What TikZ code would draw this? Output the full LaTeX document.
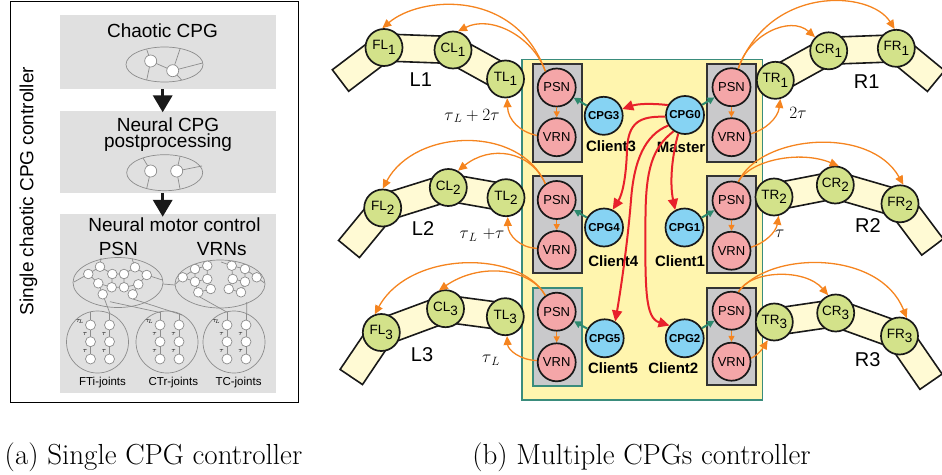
\documentclass[tikz,border=0pt]{standalone}
\usepackage{fontspec}
\newfontfamily\arial{Liberation Sans}
\usetikzlibrary{arrows.meta,calc}
\definecolor{boxgray}{HTML}{E0E0E0}
\definecolor{cgray}{HTML}{C9C9CB}
\definecolor{ybox}{HTML}{FFF5AE}
\definecolor{tealc}{HTML}{3A8C7C}
\definecolor{jgreen}{HTML}{D3E28A}
\definecolor{npink}{HTML}{F4A6A8}
\definecolor{cblue}{HTML}{86D3F3}
\definecolor{segy}{HTML}{FFFAD4}
\definecolor{orng}{HTML}{F5841F}
\definecolor{redc}{HTML}{E8212B}
\definecolor{tealarrc}{HTML}{2E8A6E}
\definecolor{netgray}{HTML}{8C8C8C}
\newcommand{\fsz}[1]{\fontsize{#1}{#1}\selectfont}
\newcommand{\lsub}[1]{\raisebox{-0.32em}{#1}}
\newcommand{\legbar}[2]{\filldraw[segsty] ($(#1)!13.5pt!90:(#2)$) -- ($(#2)!13.5pt!-90:(#1)$) -- ($(#2)!13.5pt!90:(#1)$) -- ($(#1)!13.5pt!-90:(#2)$) -- cycle;}
\tikzset{
 joint/.style={circle, draw=black!90, line width=1.7pt, fill=jgreen, minimum size=37pt, inner sep=0pt, font=\arial\fsz{13.5}},
 neur/.style={circle, draw=black!90, line width=1.7pt, fill=npink, minimum size=38pt, inner sep=0pt, font=\arial\fsz{13}},
 cpgn/.style={circle, draw=black!90, line width=1.7pt, fill=cblue, minimum size=38pt, inner sep=0pt, font=\arial\bfseries\fsz{11.5}},
 clab/.style={font=\arial\bfseries\fsz{15}, inner sep=0pt},
 segsty/.style={draw=black!90, line width=1.6pt, fill=segy},
 orarr/.style={draw=orng, line width=1.3pt, -{Triangle[length=9pt,width=8pt]}},
 orsm/.style={draw=orng, line width=1.3pt, -{Triangle[length=6pt,width=6pt]}},
 redarr/.style={draw=redc, line width=2pt, -{Triangle[length=11pt,width=10pt]}},
 tarr/.style={draw=tealarrc, line width=2pt, -{Triangle[length=7pt,width=7pt]}},
 ctrbox/.style={draw=black!80, line width=2.2pt, fill=cgray},
 leglab/.style={font=\arial\fsz{20}, inner sep=0pt},
 taulab/.style={font=\fsz{18}, inner sep=0pt},
 lbox/.style={fill=boxgray, draw=none, inner sep=0pt},
 net/.style={draw=netgray, line width=0.7pt},
 sncirc/.style={draw=netgray, line width=0.7pt, fill=white},
 bigarr/.style={draw=black!90, line width=3.5pt, -{Triangle[length=17pt,width=19pt]}},
 sans19/.style={font=\arial\fsz{19}, inner sep=0pt},
}
\begin{document}
\begin{tikzpicture}[x=1pt,y=-1pt]
\useasboundingbox (0,0) rectangle (942,474);
% ================= left panel =================
\draw[line width=1pt] (10,1.5) rectangle (298,402);
\node[rotate=90, sans19] (ttl) at (28.5,191) {Single chaotic CPG controller};
\node[lbox, minimum width=216pt, minimum height=74pt] (b1) at (168,52) {};
\node[lbox, minimum width=216pt, minimum height=82pt] (b2) at (168,152) {};
\node[lbox, minimum width=216pt, minimum height=179pt] (b3) at (168,303.5) {};
\draw[bigarr] ($(b1.south)+(-5.3,0)$) -- ($(b2.north)+(-5.3,1.5)$);
\draw[bigarr] ($(b2.south)+(-5.3,0)$) -- ($(b3.north)+(-5.3,3)$);
\node[sans19] (t1) at (162.5,30.8) {Chaotic CPG};
\node[font=\arial\fontsize{19}{16}\selectfont, inner sep=0pt, align=center] (t2) at (168,134.7) {Neural CPG\\postprocessing};
\node[sans19] (t4) at (174.5,225) {Neural motor control};
\node[sans19] (t5) at (118.3,248.8) {PSN};
\node[sans19] (t6) at (221.7,248.8) {VRNs};
% box 1 network
\draw[net, fill=boxgray] (164.5,64.5) ellipse [x radius=38.5pt, y radius=17.5pt];
\draw[net] (146.7,49.5) -- (150.7,61) -- (172.7,70.7) -- (180,49);
\draw[net] (150.7,61) -- (146.7,80) (172.7,70.7) -- (202.5,63) (172.7,70.7) -- (181.7,80);
\filldraw[sncirc] (150.7,61) circle[radius=6pt] (172.7,70.7) circle[radius=6pt];
% box 2 network
\draw[net, fill=boxgray] (164.7,172.7) ellipse [x radius=38pt, y radius=18pt];
\draw[net] (143,158) -- (150.7,171) -- (146.7,188.5) (180,156.5) -- (176.7,171) -- (180,189) (176.7,171) -- (202,166);
\filldraw[sncirc] (150.7,171) circle[radius=6pt] (176.7,171) circle[radius=6pt];
% box 3 networks
\draw[net, fill=boxgray] (118,282.5) ellipse [x radius=45pt, y radius=25pt];
\draw[net, fill=boxgray] (220,284) ellipse [x radius=45pt, y radius=24pt];
\draw[net] (163,284) -- (175,285);
\draw[net] (74,282) -- (88.3,274) -- (100,266.7) -- (101,258) (100,266.7) -- (112.3,274) -- (124,274) -- (135,267.3) -- (146.7,275) -- (162.5,280)
  (135,267.3) -- (132,258.5) (88.3,274) -- (98.3,283.3) -- (111.7,287.3) -- (124,287.3) -- (138.3,284.3) -- (146.7,275)
  (112.3,274) -- (111.7,287.3) (124,274) -- (124,287.3) (98.3,283.3) -- (102.7,294.3) (138.3,284.3) -- (132.7,294.3);
\draw[net] (175.5,284) -- (182.7,277.3) -- (195,269) -- (207.3,265.7) (182.7,277.3) -- (195,281.7) -- (207.3,279) -- (207.3,265.7)
  (195,269) -- (195,281.7) (195,281.7) -- (198.3,292.3) -- (210.7,289) -- (207.3,279)
  (231.7,265.7) -- (245,269) -- (256.7,277.3) -- (264.5,283) (232.7,279) -- (245,281.7) -- (245,269) (231.7,265.7) -- (232.7,279) -- (228.7,289) -- (241,292.3) -- (245,281.7)
  (221,262) -- (231.7,265.7);
\draw[net] (102.7,294.3) -- (110,313.6) (110,301.7) -- (160,312.5) (133,299) -- (182,315) (199.3,296.7) -- (226.7,312) (246.7,302) -- (246.7,313.7);
\foreach \p in {(88.3,274),(100,266.7),(98.3,283.3),(112.3,274),(111.7,287.3),(124,274),(124,287.3),(135,267.3),(146.7,275),(138.3,284.3),(102.7,294.3),(132.7,294.3),
  (182.7,277.3),(195,269),(207.3,265.7),(195,281.7),(207.3,279),(198.3,292.3),(210.7,289),(231.7,265.7),(245,269),(232.7,279),(245,281.7),(256.7,277.3),(228.7,289),(241,292.3)}
  {\filldraw[sncirc] \p circle[radius=4.8pt];}
% joint circles
\foreach \cx in {97.5,167,234}{
  \draw[net] (\cx,342) circle[radius=31pt];
  \draw[net] (\cx-7,311.8) -- (\cx-7,359) (\cx+12,313.5) -- (\cx+12,359);
  \foreach \yy in {325,341.7,359}{\filldraw[sncirc] (\cx-7,\yy) circle[radius=5pt] (\cx+12,\yy) circle[radius=5pt];}
  \node[font=\fsz{7}, inner sep=0pt] (tl\cx) at (\cx-17.5,321.5) {$\tau_{\!L}$};
  \node[font=\fsz{7}, inner sep=0pt] (ta\cx) at (\cx-12.5,333.5) {$\tau$};
  \node[font=\fsz{7}, inner sep=0pt] (tb\cx) at (\cx-12.5,350.5) {$\tau$};
  \node[font=\fsz{7}, inner sep=0pt] (tc\cx) at (\cx+6.5,333.5) {$\tau$};
  \node[font=\fsz{7}, inner sep=0pt] (td\cx) at (\cx+6.5,350.5) {$\tau$};
}
\node[font=\arial\fsz{11.5}, inner sep=0pt] (j1) at (102.5,382.3) {FTi-joints};
\node[font=\arial\fsz{11.5}, inner sep=0pt] (j2) at (173.3,382.3) {CTr-joints};
\node[font=\arial\fsz{11.5}, inner sep=0pt] (j3) at (238.5,382.3) {TC-joints};
% ================= right panel =================
\filldraw[draw=tealc, line width=1.8pt, fill=ybox] (522,59.5) rectangle (762.5,400);
\filldraw[ctrbox] (532.7,64.3) rectangle (581.7,161.7);
\filldraw[ctrbox] (532.7,176) rectangle (581.7,273.3);
\filldraw[ctrbox, draw=tealc] (532.7,288.3) rectangle (581.7,385.7);
\filldraw[ctrbox] (706.7,64.3) rectangle (756,161.7);
\filldraw[ctrbox] (706.7,176) rectangle (756,273.3);
\filldraw[ctrbox] (706.7,287.7) rectangle (756,385);
% legs: coordinates
\coordinate (cTL1) at (505.5,79);   \coordinate (cCL1) at (453,50);    \coordinate (cFL1) at (384,47.5);  \coordinate (pL1) at (340.5,80.5);
\coordinate (cTL2) at (506,197.7);  \coordinate (cCL2) at (448.3,187.5); \coordinate (cFL2) at (382.7,208); \coordinate (pL2) at (349,249);
\coordinate (cTL3) at (505.3,316.7); \coordinate (cCL3) at (445.5,308.7); \coordinate (cFL3) at (381.3,332.5); \coordinate (pL3) at (351.3,377);
\coordinate (cTR1) at (775.3,80.3); \coordinate (cCR1) at (828.7,50.8); \coordinate (cFR1) at (896.3,48.3); \coordinate (pR1) at (936,81);
\coordinate (cTR2) at (774,197);    \coordinate (cCR2) at (835.3,185);  \coordinate (cFR2) at (900,203.8); \coordinate (pR2) at (932.5,247);
\coordinate (cTR3) at (774.3,322);  \coordinate (cCR3) at (835.7,313);  \coordinate (cFR3) at (899.5,336); \coordinate (pR3) at (931,381.7);
\foreach \s in {L1,L2,L3}{\legbar{cT\s}{cC\s}\legbar{cC\s}{cF\s}\legbar{cF\s}{p\s}}
\foreach \s in {R1,R2,R3}{\legbar{cT\s}{cC\s}\legbar{cC\s}{cF\s}\legbar{cF\s}{p\s}}
\foreach \s/\n in {L1/1,L2/2,L3/3}{
  \node[joint] (T\s) at (cT\s) {TL\lsub{\n}};
  \node[joint] (C\s) at (cC\s) {CL\lsub{\n}};
  \node[joint] (F\s) at (cF\s) {FL\lsub{\n}};
}
\foreach \s/\n in {R1/1,R2/2,R3/3}{
  \node[joint] (T\s) at (cT\s) {TR\lsub{\n}};
  \node[joint] (C\s) at (cC\s) {CR\lsub{\n}};
  \node[joint] (F\s) at (cF\s) {FR\lsub{\n}};
}
\node[leglab] (lL1) at (420.8,79.5) {L1};
\node[leglab] (lL2) at (423,229) {L2};
\node[leglab] (lL3) at (422,355) {L3};
\node[leglab] (lR1) at (866.7,81.7) {R1};
\node[leglab] (lR2) at (868,226) {R2};
\node[leglab] (lR3) at (867.7,360) {R3};
\node[taulab] (d1) at (472,116) {$\tau_{\,L} + 2\tau$};
\node[taulab] (d2) at (482,235) {$\tau_{\,L}\ {+}\tau$};
\node[taulab] (d3) at (491,360) {$\tau_{\,L}$};
\node[taulab] (d4) at (798,112.7) {$2\tau$};
\node[taulab] (d5) at (779.7,234) {$\tau$};
% neurons
\node[neur] (psnL1) at (556.7,87.5) {PSN};  \node[neur] (vrnL1) at (556.7,137.2) {VRN};
\node[neur] (psnL2) at (556.7,200) {PSN};   \node[neur] (vrnL2) at (556.7,250) {VRN};
\node[neur] (psnL3) at (556.7,311.7) {PSN}; \node[neur] (vrnL3) at (556.7,362.3) {VRN};
\node[neur] (psnR1) at (731.5,87.2) {PSN};  \node[neur] (vrnR1) at (731.5,137.2) {VRN};
\node[neur] (psnR2) at (731.5,200.5) {PSN}; \node[neur] (vrnR2) at (731.5,250.7) {VRN};
\node[neur] (psnR3) at (731.5,310.7) {PSN}; \node[neur] (vrnR3) at (731.5,361.7) {VRN};
\foreach \s in {L1,L2,L3,R1,R2,R3}{\draw[orsm] (psn\s) -- (vrn\s);}
% CPGs
\node[cpgn] (cpg3) at (603.7,115.8) {CPG3};
\node[cpgn] (cpg0) at (685,115) {CPG0};
\node[cpgn] (cpg4) at (604,227.5) {CPG4};
\node[cpgn] (cpg1) at (684.5,227.5) {CPG1};
\node[cpgn] (cpg5) at (604.7,338.3) {CPG5};
\node[cpgn] (cpg2) at (684.7,338.3) {CPG2};
\node[clab] (k3) at (611,145.7) {Client3};
\node[clab] (k0) at (681,147.7) {Master};
\node[clab] (k4) at (613.3,260.7) {Client4};
\node[clab] (k1) at (680,260.7) {Client1};
\node[clab] (k5) at (613,368.3) {Client5};
\node[clab] (k2) at (673.3,368.3) {Client2};
\draw[tarr] (cpg3) -- (psnL1);
\draw[tarr] (cpg0) -- (psnR1);
\draw[tarr] (cpg4) -- (psnL2);
\draw[tarr] (cpg1) -- (psnR2);
\draw[tarr] (cpg5) -- (psnL3);
\draw[tarr] (cpg2) -- (psnR3);
\draw[redarr] (cpg0.150) .. controls (650,103) and (637,104) .. (cpg3.20);
\draw[redarr] (cpg0.185) .. controls (640,116) and (628,122) .. (627,150) .. controls (626,180) and (622,195) .. (cpg4.64);
\draw[redarr] (cpg0.212) .. controls (645,135) and (634,160) .. (631,200) .. controls (627,250) and (619,300) .. (cpg5.58);
\draw[redarr] (cpg0.235) .. controls (652,148) and (646,170) .. (645.5,215) .. controls (645,290) and (645,318) .. (cpg2.140);
\draw[redarr] (cpg0.250) .. controls (671,160) and (670,185) .. (cpg1.118);
% orange arcs, left
\draw[orarr] (psnL1.125) .. controls (515,-12) and (420,-4) .. (FL1.95);
\draw[orarr] (psnL1.125) .. controls (532,35) and (490,15) .. (CL1.75);
\draw[orarr] (vrnL1.175) .. controls (520,132) and (508,120) .. (TL1.-85);
\draw[orarr] (psnL2.125) .. controls (520,125) and (415,128) .. (FL2.north);
\draw[orarr] (psnL2.125) .. controls (530,150) and (490,145) .. (CL2.60);
\draw[orarr] (vrnL2.175) .. controls (520,248) and (508,235) .. (TL2.-85);
\draw[orarr] (psnL3.125) .. controls (520,250) and (410,250) .. (FL3.110);
\draw[orarr] (psnL3.125) .. controls (530,268) and (480,262) .. (CL3.110);
\draw[orarr] (vrnL3.175) .. controls (520,360) and (508,350) .. (TL3.-85);
% orange arcs, right
\draw[orarr] (psnR1.70) .. controls (770,-15) and (870,-10) .. (FR1.95);
\draw[orarr] (psnR1.70) .. controls (748,35) and (790,15) .. (CR1.135);
\draw[orarr] (vrnR1.10) .. controls (765,130) and (778,118) .. (TR1.-75);
\draw[orarr] (psnR2.70) .. controls (760,135) and (870,125) .. (FR2.80);
\draw[orarr] (psnR2.70) .. controls (750,160) and (800,150) .. (CR2.80);
\draw[orarr] (vrnR2.10) .. controls (765,243) and (776,232) .. (TR2.-76);
\draw[orarr] (psnR3.70) .. controls (770,250) and (880,250) .. (FR3.68);
\draw[orarr] (psnR3.70) .. controls (750,270) and (805,268) .. (CR3.113);
\draw[orarr] (vrnR3.10) .. controls (758,355) and (763,348) .. (TR3.-110);
% captions
\node[font=\fsz{29}, inner sep=0pt] (capa) at (153.5,457) {(a) Single CPG controller};
\node[font=\fsz{29}, inner sep=0pt] (capb) at (641.5,457) {(b) Multiple CPGs controller};
\end{tikzpicture}
\end{document}
